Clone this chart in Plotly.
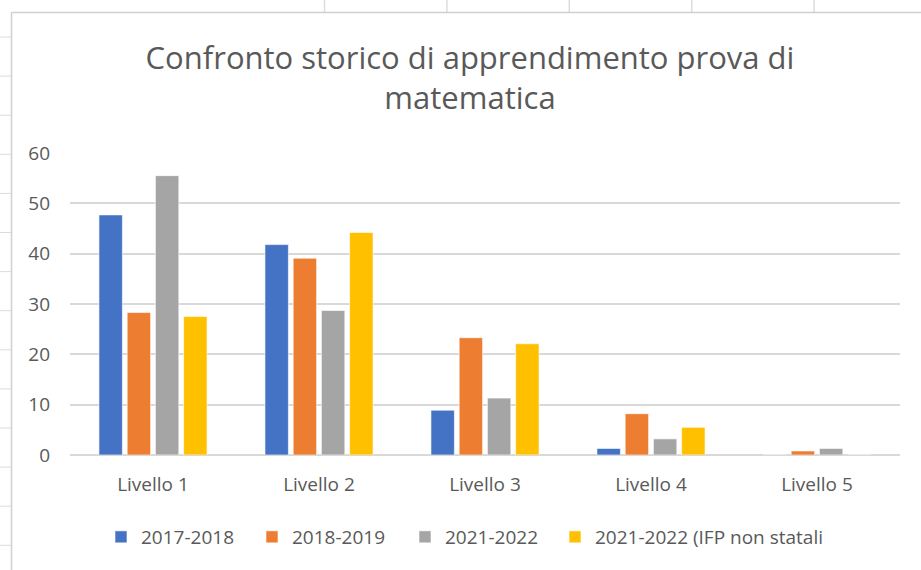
import plotly.graph_objects as go

categories = ["Livello 1", "Livello 2", "Livello 3", "Livello 4", "Livello 5"]
series_names = ["2017-2018", "2018-2019", "2021-2022", "2021-2022 (IFP non statali"]
v_2017_2018 = [47.7, 41.8, 8.9, 1.3, 0.0]
v_2018_2019 = [28.3, 39.1, 23.3, 8.2, 0.8]
v_2021_2022 = [55.5, 28.7, 11.3, 3.2, 1.3]
v_2021_2022_ifp = [27.5, 44.2, 22.1, 5.5, 0.0]
y_ticks = [0, 10, 20, 30, 40, 50, 60]

colors = ["#4472C4", "#ED7D31", "#A5A5A5", "#FFC000"]
all_values = [v_2017_2018, v_2018_2019, v_2021_2022, v_2021_2022_ifp]

W, H = 921, 570
L, R, T, B = 70, 21, 153, 115
PW, PH = W - L - R, H - T - B
FONT = "Open Sans"
GREY = "#595959"

def px_x(px):
    return (px - L) / PW

def px_y(py):
    return (H - B - py) / PH

legend_ids = ["legend", "legend2", "legend3", "legend4"]
legend_left_px = [101, 252, 405, 555]

fig = go.Figure()
for name, vals, col, lid in zip(series_names, all_values, colors, legend_ids):
    fig.add_trace(go.Bar(
        x=categories, y=vals, name=name, legend=lid,
        marker=dict(color=col, line=dict(color="rgba(255,255,255,0.6)", width=1)),
    ))

shapes = []
sheet_line = "#dcdcdc"
border_line = "#d0d0d0"
# spreadsheet cell gridlines at left
for k in range(14):
    py = 37 + 39.1 * k
    shapes.append(dict(type="line", xref="paper", yref="paper",
                       x0=px_x(-2), x1=px_x(11), y0=px_y(py), y1=px_y(py),
                       line=dict(color=sheet_line, width=1), layer="below"))
# spreadsheet cell gridlines at top
for k in range(5):
    px = 324.5 + 122.4 * k
    shapes.append(dict(type="line", xref="paper", yref="paper",
                       x0=px_x(px), x1=px_x(px), y0=px_y(-2), y1=px_y(12),
                       line=dict(color=sheet_line, width=1.5), layer="below"))
# chart border
shapes.append(dict(type="line", xref="paper", yref="paper",
                   x0=px_x(11.5), x1=px_x(925), y0=px_y(12.5), y1=px_y(12.5),
                   line=dict(color=border_line, width=1.5), layer="below"))
shapes.append(dict(type="line", xref="paper", yref="paper",
                   x0=px_x(11.5), x1=px_x(11.5), y0=px_y(12.5), y1=px_y(575),
                   line=dict(color=border_line, width=1.5), layer="below"))

layout_legends = {}
for lid, lx in zip(legend_ids, legend_left_px):
    layout_legends[lid] = dict(
        orientation="h", x=px_x(lx), xanchor="left",
        y=px_y(537), yanchor="middle",
        font=dict(family=FONT, size=19, color=GREY),
        itemwidth=30, bgcolor="rgba(0,0,0,0)")

fig.update_layout(
    width=W, height=H,
    margin=dict(l=L, r=R, t=T, b=B),
    paper_bgcolor="white", plot_bgcolor="white",
    font=dict(family=FONT, color=GREY),
    title=dict(text="Confronto storico di apprendimento prova di<br>matematica",
               x=470 / W, xanchor="center", xref="container",
               y=1 - 69 / H, yanchor="middle", yref="container",
               font=dict(family=FONT, size=31, color=GREY)),
    barmode="group", bargap=0.32, bargroupgap=0.17,
    showlegend=True,
    shapes=shapes,
    **layout_legends,
)
fig.update_yaxes(range=[0, 60], tickvals=y_ticks, showgrid=True,
                 gridcolor="#d9d9d9", gridwidth=1.5, zeroline=True,
                 zerolinecolor="#d9d9d9", zerolinewidth=1.5,
                 showline=False, ticks="", ticklabelstandoff=19,
                 tickfont=dict(family=FONT, size=19, color=GREY), fixedrange=True)
fig.update_xaxes(showline=False, ticks="", ticklabelstandoff=16,
                 tickfont=dict(family=FONT, size=19, color=GREY), fixedrange=True)

fig.write_html("out.html", config={"displayModeBar": False},
               post_script="document.body.style.margin='0';")
